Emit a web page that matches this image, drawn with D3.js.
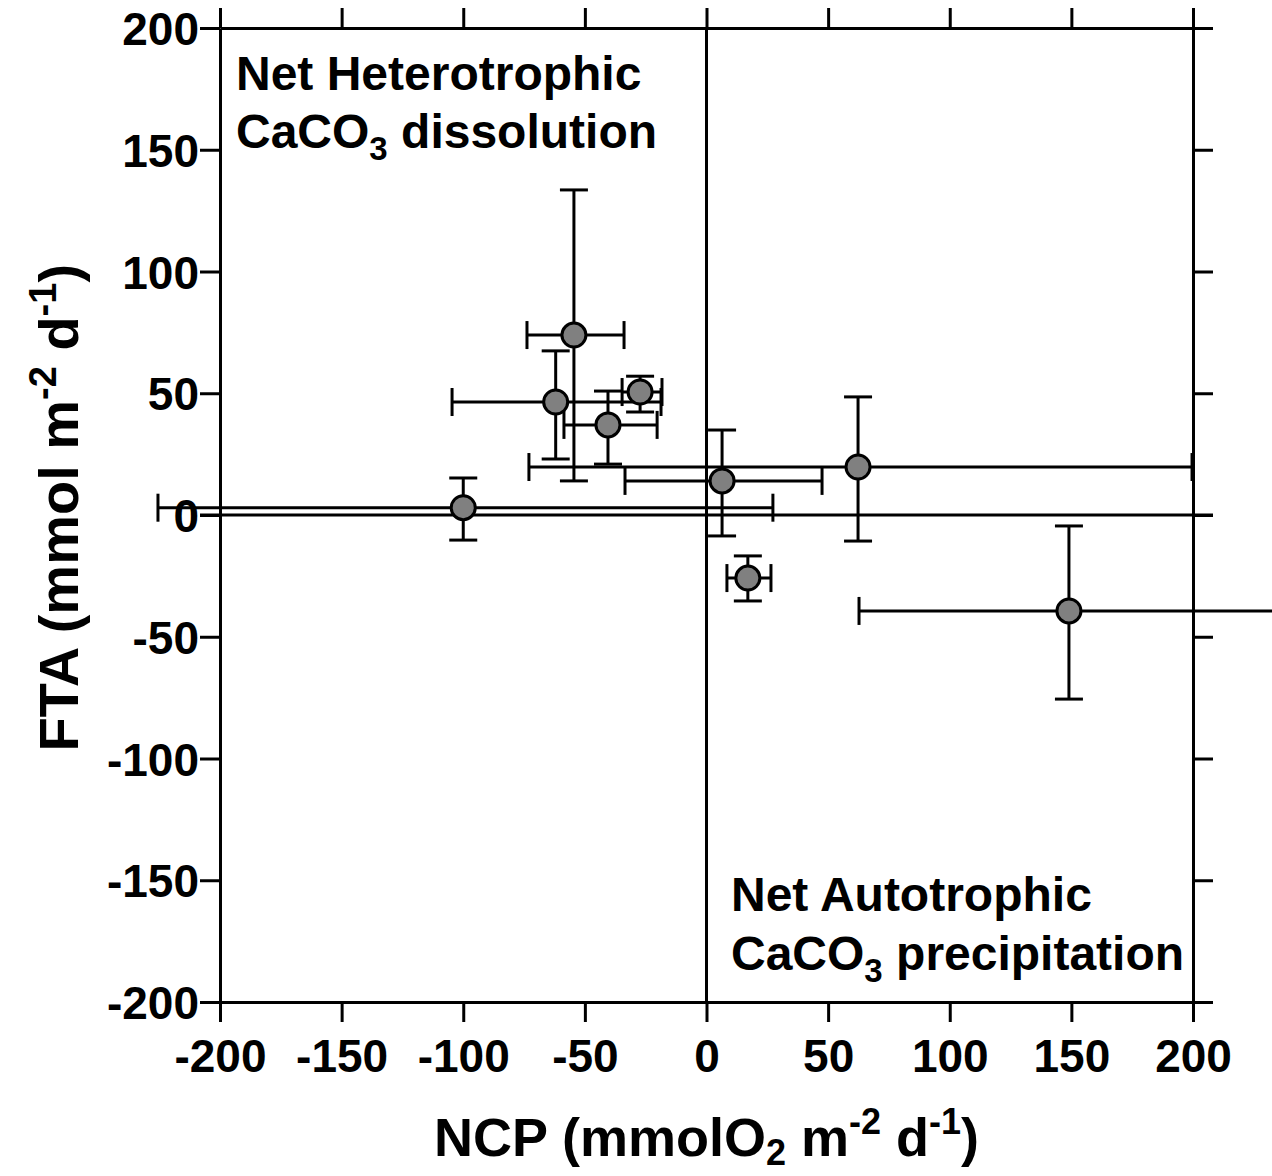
<!DOCTYPE html>
<html>
<head>
<meta charset="utf-8">
<script src="https://cdn.jsdelivr.net/npm/d3@7"></script>
<style>
  body { margin: 0; background: #fff; }
  svg text { font-family: "Liberation Sans", Arial, sans-serif; font-weight: bold; fill: #000; }
</style>
</head>
<body>
<div id="chart"></div>
<script>
// NCP and FTA means with error bar ends
const ncp   = [-100, -54.5, -62, -27.3, -40.5, 62.3, 6.4, 17, 149];
const fta   = [3, 73.9, 46.4, 50.5, 37, 19.7, 14, -25.9, -39.4];
const ncpLo = [-225.5, -73.8, -104.6, -34.7, -58.6, -73, -33.5, 8.4, 62.7];
const ncpHi = [27.3, -33.9, -18.7, -18.3, -20.3, 199.6, 47.5, 26.5, 240];
const ftaLo = [-10.3, 14, 23, 42.3, 20.9, -10.7, -8.6, -35.3, -75.6];
const ftaHi = [15.2, 133.5, 67.4, 57, 50.9, 48.5, 34.9, -16.8, -4.5];

const xTicks = [-200, -150, -100, -50, 0, 50, 100, 150, 200];
const yTicks = [-200, -150, -100, -50, 0, 50, 100, 150, 200];

const width = 1272, height = 1176;
const margin = { left: 220, right: 79, top: 28, bottom: 174 };

const svg = d3.select('#chart').append('svg')
    .attr('width', width)
    .attr('height', height);

const x = d3.scaleLinear().domain([-200, 200]).range([margin.left, width - margin.right]);
const y = d3.scaleLinear().domain([-200, 200]).range([height - margin.bottom, margin.top]);

const tickLen = 20;
const lw = 3;
const fmt = d => String(d);   // plain hyphen minus, as in the original

// frame axes, ticks pointing outward on all sides
function styleAxis(g) {
    g.select('.domain').attr('stroke', '#000').attr('stroke-width', lw).attr('fill', 'none');
    g.selectAll('.tick line').attr('stroke', '#000').attr('stroke-width', lw);
}

svg.append('g')
    .attr('transform', `translate(0,${y(-200)})`)
    .call(d3.axisBottom(x).tickValues(xTicks).tickSize(tickLen).tickSizeOuter(0).tickFormat(fmt))
    .call(styleAxis)
    .call(g => g.selectAll('.tick text').attr('font-size', 46).attr('dy', null).attr('y', 70));

svg.append('g')
    .attr('transform', `translate(0,${y(200)})`)
    .call(d3.axisTop(x).tickValues(xTicks).tickSize(tickLen).tickSizeOuter(0).tickFormat(''))
    .call(styleAxis);

svg.append('g')
    .attr('transform', `translate(${x(-200)},0)`)
    .call(d3.axisLeft(y).tickValues(yTicks).tickSize(tickLen).tickSizeOuter(0).tickFormat(fmt))
    .call(styleAxis)
    .call(g => g.selectAll('.tick text').attr('font-size', 46).attr('x', -21).attr('dy', '0.36em'));

svg.append('g')
    .attr('transform', `translate(${x(200)},0)`)
    .call(d3.axisRight(y).tickValues(yTicks).tickSize(tickLen).tickSizeOuter(0).tickFormat(''))
    .call(styleAxis);

// zero reference lines
svg.append('line')
    .attr('x1', x(-200) - tickLen).attr('x2', x(200) + tickLen)
    .attr('y1', y(0)).attr('y2', y(0))
    .attr('stroke', '#000').attr('stroke-width', lw);
svg.append('line')
    .attr('x1', x(0)).attr('x2', x(0))
    .attr('y1', y(200)).attr('y2', y(-200))
    .attr('stroke', '#000').attr('stroke-width', lw);

// error bars
const cap = 14;
const data = ncp.map((d, i) => ({ x: d, y: fta[i], xl: ncpLo[i], xh: ncpHi[i], yl: ftaLo[i], yh: ftaHi[i] }));
const bars = svg.append('g').attr('stroke', '#000').attr('stroke-width', lw);
data.forEach(d => {
    bars.append('line').attr('x1', x(d.xl)).attr('x2', x(d.xh)).attr('y1', y(d.y)).attr('y2', y(d.y));
    bars.append('line').attr('x1', x(d.xl)).attr('x2', x(d.xl)).attr('y1', y(d.y) - cap).attr('y2', y(d.y) + cap);
    bars.append('line').attr('x1', x(d.xh)).attr('x2', x(d.xh)).attr('y1', y(d.y) - cap).attr('y2', y(d.y) + cap);
    bars.append('line').attr('x1', x(d.x)).attr('x2', x(d.x)).attr('y1', y(d.yl)).attr('y2', y(d.yh));
    bars.append('line').attr('x1', x(d.x) - cap).attr('x2', x(d.x) + cap).attr('y1', y(d.yl)).attr('y2', y(d.yl));
    bars.append('line').attr('x1', x(d.x) - cap).attr('x2', x(d.x) + cap).attr('y1', y(d.yh)).attr('y2', y(d.yh));
});

svg.append('g').selectAll('circle')
    .data(data)
    .enter().append('circle')
    .attr('cx', d => x(d.x))
    .attr('cy', d => y(d.y))
    .attr('r', 12)
    .attr('fill', '#808080')
    .attr('stroke', '#000')
    .attr('stroke-width', lw);

// quadrant labels
function caco3(sel, rest) {
    sel.append('tspan').text('CaCO');
    sel.append('tspan').text('3').attr('font-size', 33).attr('dy', 12);
    sel.append('tspan').text(rest).attr('dy', -12);
}
svg.append('text').attr('x', 236).attr('y', 90).attr('font-size', 48).text('Net Heterotrophic');
svg.append('text').attr('x', 236).attr('y', 148).attr('font-size', 48).call(caco3, ' dissolution');
svg.append('text').attr('x', 731).attr('y', 911).attr('font-size', 48).text('Net Autotrophic');
svg.append('text').attr('x', 731).attr('y', 970).attr('font-size', 48).call(caco3, ' precipitation');

// axis titles
const xt = svg.append('text').attr('x', x(0)).attr('y', 1156).attr('text-anchor', 'middle').attr('font-size', 54);
xt.append('tspan').text('NCP (mmolO');
xt.append('tspan').text('2').attr('font-size', 36).attr('dy', 9);
xt.append('tspan').text(' m').attr('dy', -9);
xt.append('tspan').text('-2').attr('font-size', 36).attr('dy', -22);
xt.append('tspan').text(' d').attr('dy', 22);
xt.append('tspan').text('-1').attr('font-size', 36).attr('dy', -22);
xt.append('tspan').text(')').attr('dy', 22);

const yt = svg.append('text')
    .attr('transform', `translate(78,${y(3)}) rotate(-90)`)
    .attr('text-anchor', 'middle').attr('font-size', 56);
yt.append('tspan').text('FTA (mmol m');
yt.append('tspan').text('-2').attr('font-size', 38).attr('dy', -22);
yt.append('tspan').text(' d').attr('dy', 22);
yt.append('tspan').text('-1').attr('font-size', 38).attr('dy', -22);
yt.append('tspan').text(')').attr('dy', 22);
</script>
</body>
</html>
